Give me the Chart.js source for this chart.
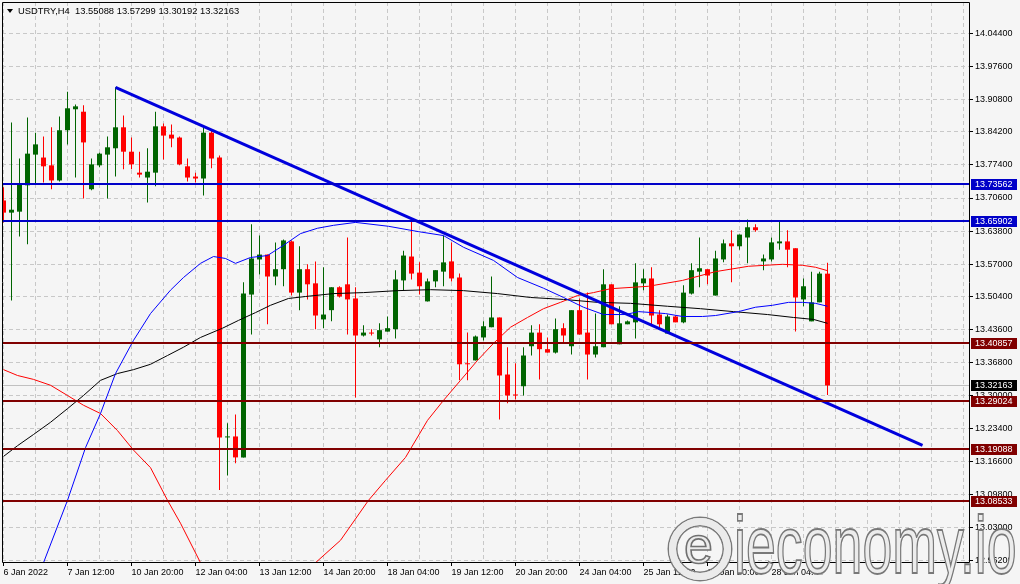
<!DOCTYPE html>
<html>
<head>
<meta charset="utf-8">
<script src="https://cdn.jsdelivr.net/npm/chart.js@4.4.0/dist/chart.umd.min.js"></script>
<style>
html,body{margin:0;padding:0;background:#f5f5f5;overflow:hidden;}
#wrap{position:relative;width:1020px;height:584px;background:#f5f5f5;overflow:hidden;}
canvas{position:absolute;left:0;top:0;}
#tri{position:absolute;left:7px;top:9px;width:0;height:0;border-left:3px solid transparent;border-right:3px solid transparent;border-top:4px solid #000;}
#title{position:absolute;left:18px;top:6px;font:9.4px/10px "Liberation Sans",Arial,sans-serif;color:#000;white-space:pre;}
#wm-logo{position:absolute;left:669px;top:518px;width:48px;height:48px;border-radius:50%;border:7px solid #ebebeb;box-shadow:0 0 0 1.5px #7a7a7a, inset 0 0 0 1.5px #7a7a7a;}
#wm-logo span{position:absolute;left:8px;top:-10px;font:52px/60px "Liberation Sans",Arial,sans-serif;color:#ebebeb;-webkit-text-stroke:1.6px #707070;}
#wm-text{position:absolute;left:734px;top:504px;font:82px/82px "Liberation Sans",Arial,sans-serif;color:#ececec;-webkit-text-stroke:1.8px #787878;transform:scaleX(0.655);transform-origin:0 0;white-space:nowrap;text-shadow:1px 1px 0 #ffffff;}
</style>
</head>
<body>
<div id="wrap">
  <canvas id="c" width="1020" height="584"></canvas>
  <div id="tri"></div>
  <div id="title"></div>
  <div id="wm-logo"><span>e</span></div>
  <div id="wm-text">ieconomy.io</div>
</div>
<script>
// ---- data (USDTRY, H4) ----
const symbol = 'USDTRY,H4';
const opens  = [13.701,13.676,13.678,13.732,13.795,13.789,13.773,13.742,13.845,13.888,13.883,13.724,13.773,13.795,13.808,13.851,13.801,13.758,13.748,13.758,13.853,13.836,13.830,13.771,13.750,13.746,13.840,13.789,13.215,13.217,13.174,13.508,13.580,13.590,13.545,13.560,13.617,13.512,13.560,13.531,13.457,13.476,13.523,13.529,13.500,13.424,13.430,13.416,13.432,13.437,13.537,13.586,13.553,13.494,13.535,13.555,13.576,13.543,13.367,13.373,13.420,13.441,13.461,13.344,13.303,13.320,13.402,13.430,13.396,13.389,13.439,13.402,13.476,13.430,13.385,13.400,13.529,13.406,13.447,13.451,13.531,13.541,13.467,13.428,13.463,13.451,13.510,13.555,13.560,13.506,13.580,13.613,13.607,13.625,13.646,13.576,13.580,13.613,13.617,13.603,13.498,13.453,13.492,13.55088];
const highs  = [13.728,13.861,13.787,13.871,13.840,13.832,13.851,13.873,13.924,13.898,13.896,13.787,13.799,13.832,13.933,13.875,13.830,13.801,13.808,13.883,13.859,13.857,13.832,13.787,13.758,13.851,13.847,13.793,13.244,13.262,13.533,13.652,13.629,13.590,13.615,13.621,13.619,13.607,13.570,13.576,13.564,13.523,13.525,13.625,13.523,13.445,13.437,13.449,13.463,13.558,13.598,13.664,13.574,13.541,13.558,13.629,13.615,13.551,13.430,13.424,13.453,13.545,13.461,13.400,13.367,13.400,13.445,13.447,13.420,13.459,13.449,13.476,13.500,13.512,13.469,13.560,13.529,13.484,13.455,13.572,13.560,13.564,13.476,13.467,13.465,13.527,13.572,13.625,13.560,13.598,13.621,13.640,13.631,13.662,13.652,13.590,13.625,13.660,13.640,13.603,13.541,13.555,13.555,13.57299];
const lows   = [13.656,13.496,13.627,13.611,13.734,13.738,13.724,13.740,13.816,13.748,13.705,13.722,13.769,13.705,13.750,13.765,13.765,13.748,13.697,13.730,13.785,13.810,13.773,13.740,13.738,13.711,13.767,13.107,13.137,13.162,13.174,13.426,13.549,13.447,13.527,13.525,13.506,13.476,13.498,13.437,13.439,13.453,13.502,13.426,13.297,13.422,13.424,13.400,13.432,13.418,13.517,13.539,13.508,13.494,13.523,13.525,13.535,13.332,13.332,13.373,13.414,13.441,13.252,13.285,13.293,13.301,13.383,13.334,13.389,13.387,13.408,13.385,13.426,13.334,13.379,13.400,13.447,13.406,13.447,13.418,13.517,13.445,13.439,13.428,13.451,13.449,13.508,13.523,13.529,13.506,13.574,13.533,13.600,13.572,13.637,13.558,13.576,13.600,13.564,13.432,13.484,13.453,13.492,13.30192];
const closes = [13.676,13.682,13.736,13.797,13.816,13.771,13.742,13.845,13.890,13.894,13.820,13.775,13.797,13.810,13.851,13.801,13.775,13.754,13.760,13.853,13.834,13.828,13.775,13.748,13.746,13.840,13.787,13.215,13.217,13.174,13.510,13.582,13.590,13.545,13.560,13.619,13.512,13.560,13.529,13.465,13.467,13.523,13.504,13.498,13.424,13.430,13.428,13.435,13.439,13.539,13.588,13.551,13.525,13.535,13.558,13.574,13.541,13.365,13.365,13.422,13.443,13.461,13.342,13.301,13.301,13.383,13.430,13.396,13.389,13.437,13.424,13.476,13.426,13.385,13.402,13.529,13.447,13.449,13.453,13.533,13.541,13.465,13.447,13.463,13.451,13.512,13.558,13.562,13.547,13.582,13.613,13.607,13.631,13.646,13.640,13.582,13.615,13.617,13.600,13.502,13.525,13.492,13.551,13.32163];

// indicator lines: [bar index, price]
const blueMA  = [[0,12.747],[5,12.958],[8,13.086],[10.25,13.194],[12.125,13.264],[14,13.346],[16.25,13.414],[18.375,13.469],[20.875,13.517],[22.5,13.543],[24.625,13.572],[26.25,13.586],[27.75,13.582],[29,13.572],[30.875,13.584],[33,13.588],[35,13.609],[37.125,13.633],[39.25,13.644],[41.25,13.650],[44,13.656],[48.125,13.648],[51.875,13.637],[55,13.629],[57.5,13.605],[61.25,13.578],[64.25,13.543],[67.5,13.521],[70,13.502],[72.5,13.482],[75,13.467],[77.75,13.467],[79.375,13.473],[82.75,13.469],[84.875,13.463],[87.375,13.463],[89,13.465],[91.875,13.473],[94,13.482],[96.125,13.486],[98.125,13.492],[99.875,13.492],[101.5,13.490],[103,13.484]];
const blackMA = [[0,13.176],[1.75,13.198],[3.75,13.221],[5.875,13.246],[8,13.274],[10,13.301],[12.125,13.332],[14.25,13.346],[16.25,13.354],[18.375,13.365],[20.5,13.383],[22.5,13.400],[24.625,13.420],[27.375,13.439],[29.375,13.455],[31.5,13.471],[33.375,13.486],[35.625,13.500],[37.75,13.504],[41.25,13.510],[45,13.512],[49.25,13.516],[53.375,13.518],[57.5,13.516],[61.75,13.510],[65.875,13.502],[70,13.498],[74.25,13.492],[78.375,13.490],[83,13.484],[87.125,13.479],[91.25,13.473],[95.5,13.467],[98.75,13.461],[101.25,13.457],[103,13.449]];
const redMA   = [[0,13.354],[1.75,13.342],[3.75,13.334],[5.875,13.322],[8,13.301],[10,13.281],[12.125,13.264],[14.25,13.229],[16.25,13.189],[18.375,13.153],[20.5,13.086],[22.125,13.039],[24.625,12.958],[28.375,12.860],[31.5,12.850],[35.25,12.887],[39,12.958],[42.125,13.004],[45.625,13.086],[47.75,13.127],[50.25,13.174],[53,13.250],[55,13.291],[57.125,13.332],[59.25,13.373],[61.25,13.408],[63.375,13.441],[65.5,13.461],[67.5,13.479],[69.625,13.492],[71.75,13.506],[73.75,13.512],[75.875,13.520],[80.625,13.525],[84.875,13.537],[89,13.555],[93.125,13.566],[97.375,13.570],[99.875,13.568],[101.5,13.564],[103,13.557]];
const trendLine = [[14,13.933],[114.875,13.1985]];

const blueLevels = [13.73562, 13.65902];
const redLevels  = [13.40857, 13.29024, 13.19088, 13.08533];

const xTickLabels = ['6 Jan 2022','7 Jan 12:00','10 Jan 20:00','12 Jan 04:00','13 Jan 12:00','14 Jan 20:00','18 Jan 04:00','19 Jan 12:00','20 Jan 20:00','24 Jan 04:00','25 Jan 12:00','26 Jan 20:00','28 Jan 04:00'];
const yTickValues = [14.044,13.976,13.908,13.842,13.774,13.706,13.638,13.570,13.504,13.436,13.368,13.300,13.234,13.166,13.098,13.030,12.962];

// ---- chart ----
const barsPerLabel = 8, barsPerGrid = 4, lastGridBar = 120;
const last = opens.length - 1;
document.getElementById('title').textContent =
  symbol + '  ' + [opens[last], highs[last], lows[last], closes[last]].map(v => v.toFixed(5)).join(' ');

const UP = '#006400', DN = '#ff0000';
const candleColors = opens.map((o, i) => closes[i] >= o ? UP : DN);
const pts = arr => arr.map(([x, y]) => ({x, y}));
const gridBars = [];
for (let k = 0; k <= lastGridBar; k += barsPerGrid) gridBars.push(k);
const isLabeled = v => v % barsPerLabel === 0 && (v / barsPerLabel) < xTickLabels.length;
const FONT = {family: '"Liberation Sans", Arial, sans-serif', size: 9};

const levelsPlugin = {
  id: 'levels',
  beforeDatasetsDraw(chart) {
    const {ctx, chartArea: a, scales: {y}} = chart;
    const py = Math.round(y.getPixelForValue(closes[last])) + 0.5;
    ctx.save();
    ctx.strokeStyle = '#c0c0c0'; ctx.lineWidth = 1;
    ctx.beginPath(); ctx.moveTo(a.left, py); ctx.lineTo(a.right, py); ctx.stroke();
    ctx.restore();
  },
  afterDatasetsDraw(chart) {
    const {ctx, chartArea: a, scales: {y}} = chart;
    ctx.save();
    ctx.lineWidth = 2;
    const draw = (v, c) => {
      const py = Math.round(y.getPixelForValue(v));
      ctx.strokeStyle = c;
      ctx.beginPath(); ctx.moveTo(a.left, py); ctx.lineTo(a.right, py); ctx.stroke();
    };
    blueLevels.forEach(v => draw(v, '#0000c8'));
    redLevels.forEach(v => draw(v, '#800000'));
    ctx.restore();
  },
  afterDraw(chart) {
    const {ctx, chartArea: a, scales: {y}} = chart;
    ctx.save();
    // frame
    ctx.strokeStyle = '#000'; ctx.lineWidth = 1;
    ctx.beginPath();
    ctx.moveTo(a.left + 0.5, a.top + 0.5); ctx.lineTo(a.right + 0.5, a.top + 0.5);
    ctx.lineTo(a.right + 0.5, a.bottom + 0.5); ctx.lineTo(a.left + 0.5, a.bottom + 0.5);
    ctx.closePath(); ctx.stroke();
    // price tags
    const tags = blueLevels.map(v => [v, '#0000c8'])
      .concat(redLevels.map(v => [v, '#800000']))
      .concat([[closes[last], '#000000']]);
    ctx.font = '9px "Liberation Sans", Arial, sans-serif';
    ctx.textBaseline = 'middle';
    ctx.textAlign = 'left';
    tags.forEach(([v, c]) => {
      const py = Math.round(y.getPixelForValue(v));
      ctx.fillStyle = c;
      ctx.fillRect(a.right + 2, py - 5, 46, 11);
      ctx.fillStyle = '#ffffff';
      ctx.fillText(v.toFixed(5), a.right + 6, py + 0.5);
    });
    ctx.restore();
  }
};

new Chart(document.getElementById('c'), {
  type: 'bar',
  data: {
    datasets: [
      {type: 'line', label: 'Trend', data: pts(trendLine), borderColor: '#0000dd', borderWidth: 3, pointRadius: 0, tension: 0, order: 0},
      {type: 'line', label: 'MA fast', data: pts(blueMA), borderColor: '#0000ff', borderWidth: 1, pointRadius: 0, tension: 0, order: 1},
      {type: 'line', label: 'MA mid', data: pts(blackMA), borderColor: '#000000', borderWidth: 1, pointRadius: 0, tension: 0, order: 1},
      {type: 'line', label: 'MA slow', data: pts(redMA), borderColor: '#ff0000', borderWidth: 1, pointRadius: 0, tension: 0, order: 1},
      {label: 'Body', data: opens.map((o, i) => ({x: i, y: [o, closes[i]]})), backgroundColor: candleColors,
       barThickness: 5, maxBarThickness: 5, grouped: false, minBarLength: 1, borderWidth: 0, inflateAmount: 0, order: 2},
      {label: 'Wick', data: lows.map((l, i) => ({x: i, y: [l, highs[i]]})), backgroundColor: candleColors,
       barThickness: 1, maxBarThickness: 1, grouped: false, borderWidth: 0, inflateAmount: 0, order: 3}
    ]
  },
  options: {
    responsive: false,
    animation: false,
    devicePixelRatio: 1,
    events: [],
    layout: {padding: {left: 2, top: 2, right: 0, bottom: 0}},
    plugins: {legend: {display: false}, tooltip: {enabled: false}},
    scales: {
      x: {
        type: 'linear', min: -0.1875, max: 120.6875, offset: false,
        afterBuildTicks: s => { s.ticks = gridBars.map(v => ({value: v})); },
        afterFit: s => { s.height = 22; s.paddingLeft = 0; s.paddingRight = 0; },
        grid: {offset: false, color: '#c8c8c8', borderDash: [4, 3], drawTicks: true, tickLength: 4, tickWidth: 1,
               tickBorderDash: [], tickColor: c => (c.tick && isLabeled(c.tick.value)) ? '#000' : 'rgba(0,0,0,0)'},
        border: {display: false, dash: [4, 3]},
        ticks: {autoSkip: false, maxRotation: 0, minRotation: 0, align: 'start', padding: 1, color: '#000', font: FONT,
                callback: v => isLabeled(v) ? xTickLabels[v / barsPerLabel] : ''}
      },
      y: {
        type: 'linear', position: 'right', min: 12.9595, max: 14.1080,
        afterBuildTicks: s => { s.ticks = yTickValues.map(v => ({value: v})); },
        afterFit: s => { s.width = 51; s.paddingTop = 0; s.paddingBottom = 0; },
        grid: {color: '#c8c8c8', borderDash: [4, 3], tickLength: 4, tickWidth: 1, tickColor: '#000', tickBorderDash: []},
        border: {display: false, dash: [4, 3]},
        ticks: {padding: 2, color: '#000', font: FONT, callback: v => v.toFixed(5)}
      }
    }
  },
  plugins: [levelsPlugin]
});
</script>
</body>
</html>
